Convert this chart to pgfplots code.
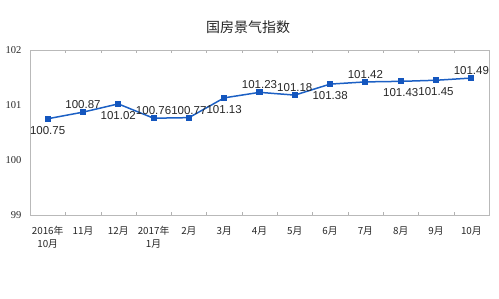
\documentclass[border=0pt]{standalone}
\usepackage{pgfplots}
\pgfplotsset{compat=1.18}
\usepackage{fontspec}
\setmainfont{Liberation Sans}
\newfontfamily\cjk{Noto Sans CJK SC}
\newfontfamily\seriffont{Liberation Serif}
\definecolor{lineblue}{RGB}{28,96,196}
\definecolor{markblue}{RGB}{20,86,190}
\begin{document}
\begin{tikzpicture}
\begin{axis}[
  name=main,
  anchor=south west, at={(0pt,0pt)}, scale only axis,
  width=459pt, height=165pt,
  xmin=-0.5, xmax=12.5, ymin=99, ymax=102,
  ytick={99,100,101,102},
  xtick={0,...,12},
  xticklabels={{2016年\\10月},11月,12月,{2017年\\1月},2月,3月,4月,5月,6月,7月,8月,9月,10月},
  minor xtick={0.5,1.5,...,11.5},
  major tick length=0pt,
  minor tick length=3pt,
  tick align=inside,
  minor tick style={draw=gray!60},
  axis line style={draw=gray!55},
  xticklabel style={align=center, font=\cjk\fontsize{9.8}{13}\selectfont, yshift=-8pt, text=black!85},
  yticklabel style={font=\seriffont\fontsize{10.5}{12}\selectfont, text=black!85, xshift=-5pt},
  /pgf/number format/assume math mode=true,
  yticklabel={\pgfmathprintnumber[fixed,precision=0]{\tick}},
  clip=false,
  nodes near coords style={font=\fontsize{11.5}{13}\selectfont, text=black!85},
  /pgf/number format/.cd, fixed, precision=2, zerofill,
]
\addplot[lineblue, line width=1.5pt, mark=square*, mark size=2.3pt, mark options={fill=markblue, draw=markblue}] coordinates {
(0,100.75) (1,100.87) (2,101.02) (3,100.76) (4,100.77) (5,101.13) (6,101.23)
(7,101.18) (8,101.38) (9,101.42) (10,101.43) (11,101.45) (12,101.49)};
% labels above
\addplot[draw=none, mark=none, nodes near coords, nodes near coords align={above}, every node near coord/.append style={yshift=0pt}] coordinates {
(1,100.87) (3,100.76) (4,100.77) (6,101.23) (7,101.18) (9,101.42) (12,101.49)};
% labels below
\addplot[draw=none, mark=none, nodes near coords, nodes near coords align={below}, every node near coord/.append style={yshift=-4pt}] coordinates {
(0,100.75) (2,101.02) (5,101.13) (8,101.38) (10,101.43) (11,101.45)};
\end{axis}
\node[font=\cjk\fontsize{14}{16}\selectfont, text=black!85] at (218pt,188pt) {国房景气指数};
\useasboundingbox (-30pt,-83pt) rectangle (469pt,215pt);
\end{tikzpicture}
\end{document}
